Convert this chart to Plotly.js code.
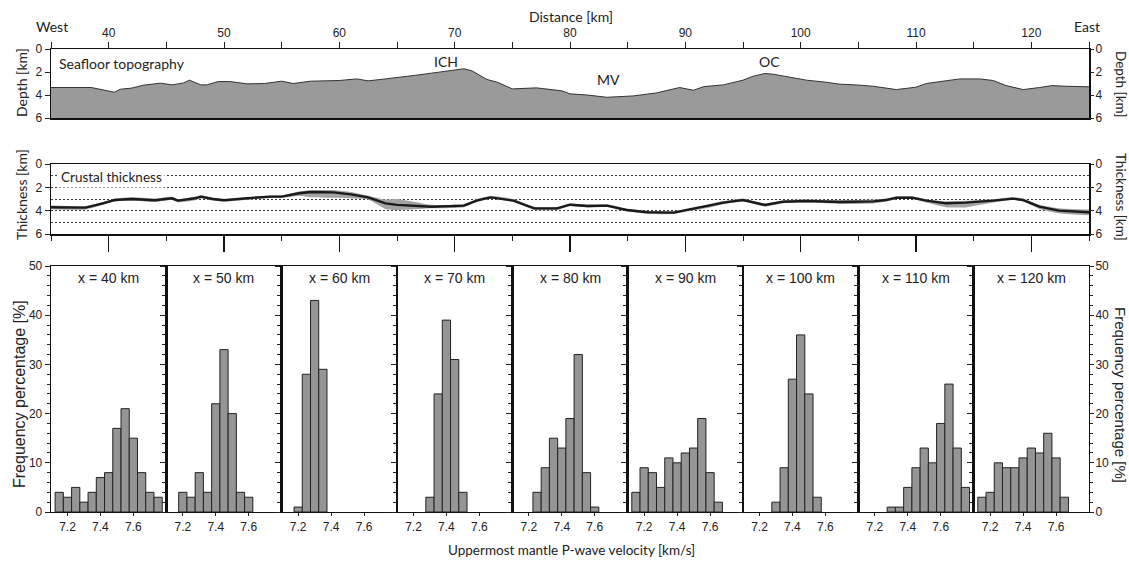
<!DOCTYPE html>
<html>
<head>
<meta charset="utf-8">
<script src="https://cdn.plot.ly/plotly-3.0.1.min.js"></script>
<style>html,body{margin:0;padding:0;background:#fff;}#chart{width:1129px;height:561px;}</style>
</head>
<body>
<div id="chart"></div>
<script>
// ---------- Seafloor topography (distance km, depth km) ----------
const topoDist = [35, 38.5, 40.5, 41, 42, 43, 44.5, 45.5, 46.5, 47, 48, 48.5, 49.5, 50.5, 52, 53.5, 55, 56, 57.5, 59,
  60, 61.5, 62.5, 64, 65, 66.5, 68, 69.4, 70.8, 71.5, 72.8, 73.7, 75, 77.1, 78.3, 79.3, 80, 81.5, 83.2, 85.5,
  87.5, 89.5, 90.7, 91.6, 93.3, 95, 95.9, 96.9, 97.6, 99.1, 100.5, 102.2, 103.4, 104.8, 106.3, 108.3, 110, 110.9, 112, 113.8,
  115.5, 116.7, 117.8, 119.3, 120.7, 121.8, 123, 125];
const topoDepth = [3.35, 3.35, 3.76, 3.5, 3.4, 3.15, 2.97, 3.12, 2.95, 2.71, 3.12, 3.12, 2.83, 2.83, 3.03, 3.0, 2.8, 3.0, 2.8, 2.77,
  2.74, 2.6, 2.77, 2.6, 2.5, 2.3, 2.1, 1.92, 1.72, 1.9, 2.65, 2.89, 3.47, 3.38, 3.53, 3.64, 3.9, 4.0, 4.2, 4.08,
  3.82, 3.35, 3.59, 3.27, 3.12, 2.71, 2.36, 2.13, 2.19, 2.48, 2.71, 2.89, 3.06, 3.12, 3.24, 3.53, 3.32, 3.0, 2.83, 2.6,
  2.6, 2.74, 3.18, 3.53, 3.35, 3.18, 3.24, 3.29];
const topoBottom = 6;

// ---------- Crustal thickness (distance km, thickness km, band) ----------
const crustDist = [35, 38, 39.5, 40.5, 42, 44, 45.5, 46, 47.5, 48, 49, 50, 52, 54, 55, 56.5, 57.5, 59.5, 61, 62.5,
  64, 65, 68, 70.8, 71.9, 73.1, 75.1, 76.9, 78.9, 80, 81.5, 83.2, 84.9, 86.7, 89, 90.2, 91.8, 93.3, 95, 96.9,
  98.5, 100.5, 103.4, 106.3, 107.4, 108.3, 109.7, 110.9, 112.6, 114.3, 116.7, 118.4, 119.3, 120.7, 122.4, 125];
const crustThick = [3.71, 3.74, 3.37, 3.09, 3.0, 3.11, 2.94, 3.14, 2.94, 2.8, 3.0, 3.11, 2.94, 2.8, 2.8, 2.51, 2.4, 2.43, 2.6, 2.86,
  3.37, 3.5, 3.66, 3.57, 3.14, 2.86, 3.14, 3.8, 3.8, 3.49, 3.6, 3.57, 3.94, 4.14, 4.17, 3.94, 3.66, 3.31, 3.09, 3.51,
  3.23, 3.17, 3.26, 3.2, 3.09, 2.89, 2.89, 3.14, 3.37, 3.31, 3.14, 2.97, 3.09, 3.66, 4.0, 4.14];
const crustMin = [3.55, 3.6, 3.25, 2.97, 2.85, 2.95, 2.8, 3.0, 2.78, 2.68, 2.88, 3.0, 2.84, 2.7, 2.7, 2.35, 2.25, 2.25, 2.4, 2.72,
  3.05, 3.0, 3.5, 3.42, 3.02, 2.75, 3.02, 3.68, 3.68, 3.38, 3.48, 3.45, 3.82, 4.02, 4.05, 3.82, 3.52, 3.18, 2.97, 3.38,
  3.1, 3.05, 3.1, 3.05, 2.95, 2.78, 2.78, 3.02, 3.2, 3.15, 3.02, 2.85, 2.95, 3.5, 3.8, 3.9];
const crustMax = [3.88, 3.9, 3.5, 3.22, 3.15, 3.25, 3.08, 3.28, 3.1, 2.95, 3.12, 3.22, 3.06, 2.92, 2.92, 2.75, 2.85, 2.9, 2.95, 3.05,
  3.85, 3.95, 3.8, 3.7, 3.26, 2.98, 3.26, 3.92, 3.92, 3.6, 3.72, 3.69, 4.06, 4.26, 4.29, 4.06, 3.8, 3.44, 3.21, 3.64,
  3.36, 3.3, 3.42, 3.38, 3.22, 3.0, 3.0, 3.3, 3.7, 3.72, 3.3, 3.09, 3.22, 3.85, 4.22, 4.4];

// ---------- Histograms of uppermost mantle Vp ----------
const panelLabels = ['x = 40 km', 'x = 50 km', 'x = 60 km', 'x = 70 km', 'x = 80 km', 'x = 90 km', 'x = 100 km', 'x = 110 km', 'x = 120 km'];
const vel40 = [7.15, 7.2, 7.25, 7.3, 7.35, 7.4, 7.45, 7.5, 7.55, 7.6, 7.65, 7.7, 7.75];
const freq40 = [4, 3, 5, 2, 4, 7, 8, 17, 21, 15, 8, 4, 3];
const vel50 = [7.2, 7.25, 7.3, 7.35, 7.4, 7.45, 7.5, 7.55, 7.6];
const freq50 = [4, 3, 8, 4, 22, 33, 20, 4, 3];
const vel60 = [7.2, 7.25, 7.3, 7.35];
const freq60 = [1, 28, 43, 29];
const vel70 = [7.3, 7.35, 7.4, 7.45, 7.5];
const freq70 = [3, 24, 39, 31, 4];
const vel80 = [7.25, 7.3, 7.35, 7.4, 7.45, 7.5, 7.55, 7.6];
const freq80 = [4, 9, 15, 13, 19, 32, 8, 1];
const vel90 = [7.15, 7.2, 7.25, 7.3, 7.35, 7.4, 7.45, 7.5, 7.55, 7.6, 7.65];
const freq90 = [4, 9, 8, 5, 11, 10, 12, 13, 19, 8, 2];
const vel100 = [7.3, 7.35, 7.4, 7.45, 7.5, 7.55];
const freq100 = [2, 9, 27, 36, 24, 3];
const vel110 = [7.3, 7.35, 7.4, 7.45, 7.5, 7.55, 7.6, 7.65, 7.7, 7.75];
const freq110 = [1, 1, 5, 9, 13, 10, 18, 26, 13, 5];
const vel120 = [7.15, 7.2, 7.25, 7.3, 7.35, 7.4, 7.45, 7.5, 7.55, 7.6, 7.65];
const freq120 = [3, 4, 10, 9, 9, 11, 13, 12, 16, 11, 3];
const binWidth = 0.05;
const velTicks = [7.2, 7.4, 7.6];
const freqTicks = [0, 10, 20, 30, 40, 50];
const depthTicks = [0, 2, 4, 6];

const velSets = [vel40, vel50, vel60, vel70, vel80, vel90, vel100, vel110, vel120];
const freqSets = [freq40, freq50, freq60, freq70, freq80, freq90, freq100, freq110, freq120];

// ---------- layout helpers ----------
const W = 1129, H = 561;
const px = v => v / W;
const py = v => 1 - v / H;
const LEFT = 51, RIGHT = 1089;
const tickFont = {family: 'Liberation Sans, Arial, sans-serif', size: 12, color: '#222'};
const myriad = 'Lato, Open Sans, sans-serif';

const traces = [];
// Seafloor
traces.push({x: topoDist, y: topoDist.map(() => topoBottom), xaxis: 'x', yaxis: 'y', mode: 'lines',
  line: {width: 0, color: 'rgba(0,0,0,0)'}, hoverinfo: 'skip'});
traces.push({x: topoDist, y: topoDepth, xaxis: 'x', yaxis: 'y', mode: 'lines', fill: 'tonexty',
  fillcolor: '#9a9a9a', line: {color: '#333', width: 1}});
// empty helper trace so the right-hand depth axis is drawn
traces.push({x: [], y: [], xaxis: 'x', yaxis: 'y2', mode: 'lines', hoverinfo: 'skip'});
// Crustal thickness band + line
traces.push({x: crustDist, y: crustMax, xaxis: 'x2', yaxis: 'y3', mode: 'lines',
  line: {width: 0, color: 'rgba(0,0,0,0)', shape: 'spline', smoothing: 0.6}, hoverinfo: 'skip'});
traces.push({x: crustDist, y: crustMin, xaxis: 'x2', yaxis: 'y3', mode: 'lines', fill: 'tonexty',
  fillcolor: '#a3a3a3', line: {width: 0, color: 'rgba(0,0,0,0)', shape: 'spline', smoothing: 0.6}});
traces.push({x: crustDist, y: crustThick, xaxis: 'x2', yaxis: 'y3', mode: 'lines',
  line: {color: '#1a1a1a', width: 2.4}});
traces.push({x: [], y: [], xaxis: 'x2', yaxis: 'y4', mode: 'lines', hoverinfo: 'skip'});

const rightAxisCommon = {ticks: 'outside', ticklen: 4, tickcolor: '#222', ticklabelstandoff: -1,
  showline: false, showgrid: false, zeroline: false, tickfont: tickFont};

const layout = {
  width: W, height: H, margin: {l: 0, r: 0, t: 0, b: 0},
  paper_bgcolor: '#fff', plot_bgcolor: 'rgba(0,0,0,0)', showlegend: false,
  font: {family: 'Liberation Sans, Arial, sans-serif', color: '#222'},
  xaxis: {domain: [px(LEFT), px(RIGHT)], anchor: 'y', side: 'top', range: [35, 125],
    tick0: 40, dtick: 10, ticks: 'outside', ticklen: 6, tickwidth: 1, tickcolor: '#222',
    minor: {dtick: 5, ticks: 'outside', ticklen: 6, tickwidth: 1, tickcolor: '#222', showgrid: false},
    showline: true, linewidth: 1.5, linecolor: '#111', mirror: true, showgrid: false, zeroline: false,
    tickfont: tickFont},
  yaxis: {domain: [py(118), py(49)], anchor: 'x', range: [6, 0], tickvals: depthTicks,
    ticks: 'outside', ticklen: 5, tickcolor: '#222', showline: true, linewidth: 1.5, linecolor: '#111', mirror: true,
    showgrid: false, zeroline: false, tickfont: tickFont},
  yaxis2: Object.assign({overlaying: 'y', anchor: 'x', side: 'right', range: [6, 0], tickvals: depthTicks}, rightAxisCommon),
  xaxis2: {domain: [px(LEFT), px(RIGHT)], anchor: 'y3', range: [35, 125], tick0: 40, dtick: 10,
    ticks: 'outside', ticklen: 16, tickwidth: 1.2, tickcolor: '#111', showticklabels: false,
    minor: {dtick: 5, ticks: 'outside', ticklen: 5, tickwidth: 1, tickcolor: '#222', showgrid: false},
    showline: true, linewidth: 1.5, linecolor: '#111', mirror: true, showgrid: false, zeroline: false},
  yaxis3: {domain: [py(234), py(164)], anchor: 'x2', range: [6, 0], tick0: 0, dtick: 2,
    ticks: 'outside', ticklen: 5, tickcolor: '#222', showline: true, linewidth: 1.5, linecolor: '#111', mirror: true,
    showgrid: true, gridcolor: '#222', gridwidth: 0.9, griddash: '2px,2px', zeroline: false, tickfont: tickFont,
    minor: {dtick: 1, showgrid: true, gridcolor: '#222', gridwidth: 0.9, griddash: '2px,2px', ticks: ''}},
  yaxis4: Object.assign({overlaying: 'y3', anchor: 'x2', side: 'right', range: [6, 0], tick0: 0, dtick: 2}, rightAxisCommon),
  annotations: [], bargap: 0
};

const panelW = (RIGHT - LEFT) / 9;
for (let i = 0; i < 9; i++) {
  const xi = 3 + i, yi = 5 + i;
  const xa = 'xaxis' + xi, ya = 'yaxis' + yi;
  const x0 = LEFT + i * panelW, x1 = LEFT + (i + 1) * panelW;
  layout[xa] = {domain: [px(x0), px(x1)], anchor: 'y' + yi, range: [7.1, 7.8], tickvals: velTicks,
    ticks: 'outside', ticklen: 3, tickcolor: '#222', showline: true, linewidth: 1.3, linecolor: '#111', mirror: true,
    showgrid: false, zeroline: false, tickfont: tickFont};
  layout[ya] = {domain: [py(512), py(266)], anchor: 'x' + xi, range: [0, 50], tickvals: freqTicks,
    ticks: 'outside', ticklen: 5, tickcolor: '#222', showticklabels: i === 0,
    minor: {dtick: 2, ticks: 'outside', ticklen: 3, tickcolor: '#222', showgrid: false},
    showline: true, linewidth: 1.3, linecolor: '#111', mirror: true, showgrid: false, zeroline: false, tickfont: tickFont};
  traces.push({type: 'bar', x: velSets[i], y: freqSets[i], width: binWidth, xaxis: 'x' + xi, yaxis: 'y' + yi,
    marker: {color: '#959595', line: {color: '#222', width: 1}}});
  layout.annotations.push({text: panelLabels[i], xref: 'paper', yref: 'paper', x: px((x0 + x1) / 2), y: py(278),
    showarrow: false, xanchor: 'center', yanchor: 'middle', font: {family: 'Liberation Sans, Arial, sans-serif', size: 14, color: '#222'}});
}
layout.yaxis14 = Object.assign({overlaying: 'y13', anchor: 'x11', side: 'right', range: [0, 50], tickvals: freqTicks,
  minor: {dtick: 2, ticks: 'outside', ticklen: 3, tickcolor: '#222', showgrid: false}}, rightAxisCommon);
traces.push({x: [], y: [], xaxis: 'x11', yaxis: 'y14', mode: 'lines', hoverinfo: 'skip'});

function ann(text, x, y, opts) {
  layout.annotations.push(Object.assign({text: text, xref: 'paper', yref: 'paper', x: px(x), y: py(y),
    showarrow: false, xanchor: 'center', yanchor: 'middle', font: {family: myriad, size: 14, color: '#222'}}, opts || {}));
}
ann('West', 52, 26);
ann('East', 1087, 26);
ann('Distance [km]', 571, 17);
ann('Seafloor topography', 57, 63, {xanchor: 'left'});
ann('ICH', 446, 61);
ann('MV', 608, 80);
ann('OC', 769, 61);
ann('Depth [km]', 21, 83, {textangle: -90});
ann('Depth [km]', 1121, 84, {textangle: 90, font: {family: myriad, size: 13.5, color: '#222'}});
ann('Crustal thickness', 58, 177, {xanchor: 'left', bgcolor: '#fff', borderpad: 2, font: {family: myriad, size: 13.5, color: '#222'}});
ann('Thickness [km]', 21, 195, {textangle: -90});
ann('Thickness [km]', 1121, 197, {textangle: 90, font: {family: myriad, size: 13.5, color: '#222'}});
ann('Frequency percentage [%]', 19, 394, {textangle: -90, font: {family: 'Liberation Sans, Arial, sans-serif', size: 16, color: '#222'}});
ann('Frequency percentage [%]', 1121, 395, {textangle: 90, font: {family: 'Liberation Sans, Arial, sans-serif', size: 15, color: '#222'}});
ann('Uppermost mantle P-wave velocity [km/s]', 571, 550, {font: {family: myriad, size: 13.5, color: '#222'}});

Plotly.newPlot('chart', traces, layout, {staticPlot: true, displayModeBar: false});
</script>
</body>
</html>
